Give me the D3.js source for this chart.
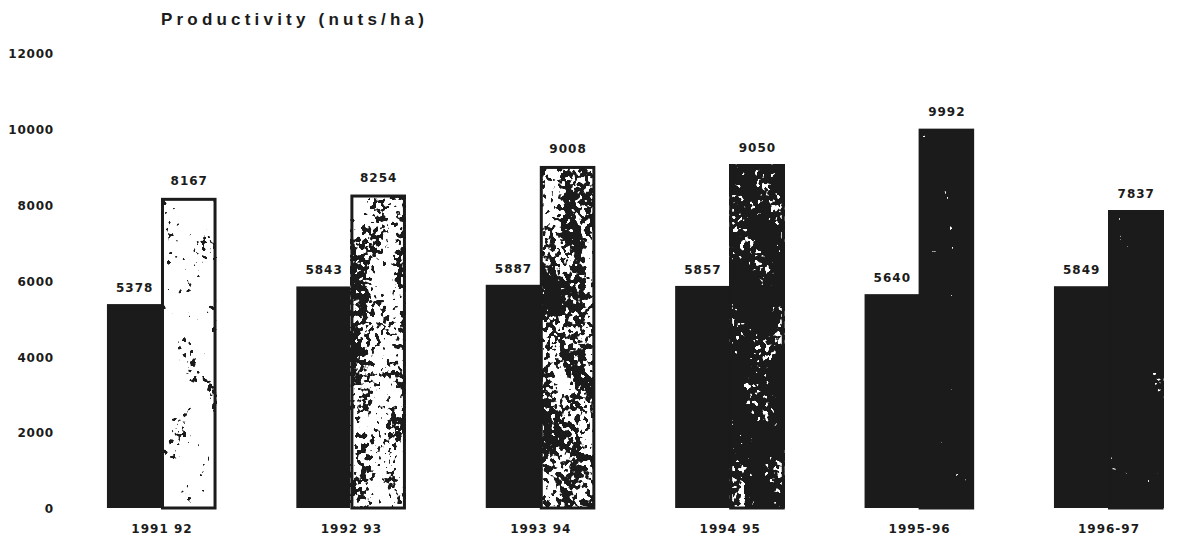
<!DOCTYPE html>
<html>
<head>
<meta charset="utf-8">
<script src="https://cdn.jsdelivr.net/npm/d3@7"></script>
<style>
  html, body { margin: 0; padding: 0; background: #fff; }
  svg { display: block; }
</style>
</head>
<body>
<script>
// Productivity per season, two bars per season
const seasons = ["1991 92", "1992 93", "1993 94", "1994 95", "1995-96", "1996-97"];
const firstValues = [5378, 5843, 5887, 5857, 5640, 5849];
const secondValues = [8167, 8254, 9008, 9050, 9992, 7837];
const yTickValues = [0, 2000, 4000, 6000, 8000, 10000, 12000];
const titleText = "Productivity (nuts/ha)";

// Grain density of the speckled bars (threshold of the noise; lower = darker)
const grainThreshold = [0.64, 0.525, 0.485, 0.37, 0.25, 0.26];

const W = 1202, H = 538;
const ink = "#1b1b1b";
const numFont = "'DejaVu Sans', sans-serif";

const svg = d3.select("body").append("svg")
  .attr("width", W).attr("height", H);

const x = d3.scaleBand()
  .domain(seasons)
  .range([88, 1182])
  .paddingInner(0.424)
  .paddingOuter(0.1);

const sub = d3.scaleBand()
  .domain(["first", "second"])
  .range([0, x.bandwidth()]);

const y = d3.scaleLinear()
  .domain([0, 12000])
  .range([508, 53]);

// Noise filters giving each second bar its speckled fill:
// fine grain mixed with a coarse field, then thresholded to black/white
const defs = svg.append("defs");
seasons.forEach((s, i) => {
  const t = grainThreshold[i];
  const f = defs.append("filter")
    .attr("id", "grain-" + i)
    .attr("x", 0).attr("y", 0).attr("width", 1).attr("height", 1)
    .attr("color-interpolation-filters", "sRGB");
  f.append("feTurbulence")
    .attr("type", "fractalNoise")
    .attr("baseFrequency", "0.2 0.18")
    .attr("numOctaves", 2)
    .attr("seed", 3 + i * 13)
    .attr("result", "fine");
  f.append("feTurbulence")
    .attr("type", "fractalNoise")
    .attr("baseFrequency", "0.04 0.022")
    .attr("numOctaves", 2)
    .attr("seed", 29 + i * 7)
    .attr("result", "coarse");
  f.append("feComposite")
    .attr("in", "fine").attr("in2", "coarse")
    .attr("operator", "arithmetic")
    .attr("k1", 0).attr("k2", 0.5).attr("k3", 0.5).attr("k4", 0)
    .attr("result", "mix");
  f.append("feColorMatrix")
    .attr("in", "mix")
    .attr("type", "matrix")
    .attr("values", "0 0 0 0 0  0 0 0 0 0  0 0 0 0 0  1 0 0 0 0")
    .attr("result", "level");
  const ct = f.append("feComponentTransfer").attr("in", "level").attr("result", "mask");
  ct.append("feFuncA").attr("type", "linear").attr("slope", 40).attr("intercept", -40 * t);
  f.append("feFlood").attr("flood-color", ink).attr("result", "inkFill");
  f.append("feComposite").attr("in", "inkFill").attr("in2", "mask").attr("operator", "in").attr("result", "spots");
  f.append("feFlood").attr("flood-color", "#ffffff").attr("result", "paper");
  const m = f.append("feMerge");
  m.append("feMergeNode").attr("in", "paper");
  m.append("feMergeNode").attr("in", "spots");
});

// Title
svg.append("text")
  .attr("x", 161).attr("y", 25)
  .attr("font-family", "'Liberation Sans', Arial, sans-serif")
  .attr("font-weight", "bold")
  .attr("font-size", 17)
  .attr("letter-spacing", 4.2)
  .attr("fill", ink)
  .text(titleText);

// Y axis (labels only)
const yAxis = svg.append("g")
  .attr("transform", "translate(56,0)")
  .call(d3.axisLeft(y).tickValues(yTickValues).tickSize(0).tickPadding(2).tickFormat(d3.format("d")));
yAxis.select(".domain").remove();
yAxis.selectAll("text")
  .attr("font-family", numFont)
  .attr("font-weight", "bold")
  .attr("font-size", 12)
  .attr("letter-spacing", 0.8)
  .attr("fill", ink)
  .attr("dy", "0.4em");

const groups = svg.append("g").selectAll("g")
  .data(seasons)
  .join("g")
  .attr("transform", d => `translate(${x(d)},0)`);

// First bar: solid
groups.append("rect")
  .attr("x", sub("first"))
  .attr("y", (d, i) => y(firstValues[i]))
  .attr("width", sub.bandwidth())
  .attr("height", (d, i) => y(0) - y(firstValues[i]))
  .attr("fill", ink);

// Second bar: speckled fill with heavy outline
groups.append("rect")
  .attr("x", sub("second"))
  .attr("y", (d, i) => y(secondValues[i]))
  .attr("width", sub.bandwidth())
  .attr("height", (d, i) => y(0) - y(secondValues[i]))
  .attr("fill", "#fff")
  .attr("filter", (d, i) => `url(#grain-${i})`);

groups.append("rect")
  .attr("x", sub("second") + 1)
  .attr("y", (d, i) => y(secondValues[i]) + 1)
  .attr("width", sub.bandwidth() - 2)
  .attr("height", (d, i) => y(0) - y(secondValues[i]) - 1)
  .attr("fill", "none")
  .attr("stroke", ink)
  .attr("stroke-width", 3);

// Value labels
const labelStyle = sel => sel
  .attr("font-family", numFont)
  .attr("font-weight", "bold")
  .attr("font-size", 12)
  .attr("letter-spacing", 1)
  .attr("text-anchor", "middle")
  .attr("fill", ink);

groups.append("text")
  .attr("x", sub("first") + sub.bandwidth() / 2 + 0.5)
  .attr("y", (d, i) => y(firstValues[i]) - 12)
  .text((d, i) => firstValues[i])
  .call(labelStyle);

groups.append("text")
  .attr("x", sub("second") + sub.bandwidth() / 2 + 0.5)
  .attr("y", (d, i) => y(secondValues[i]) - 13)
  .text((d, i) => secondValues[i])
  .call(labelStyle);

// Season labels
groups.append("text")
  .attr("x", x.bandwidth() / 2 + 0.5)
  .attr("y", 533)
  .text(d => d)
  .call(labelStyle);
</script>
</body>
</html>
